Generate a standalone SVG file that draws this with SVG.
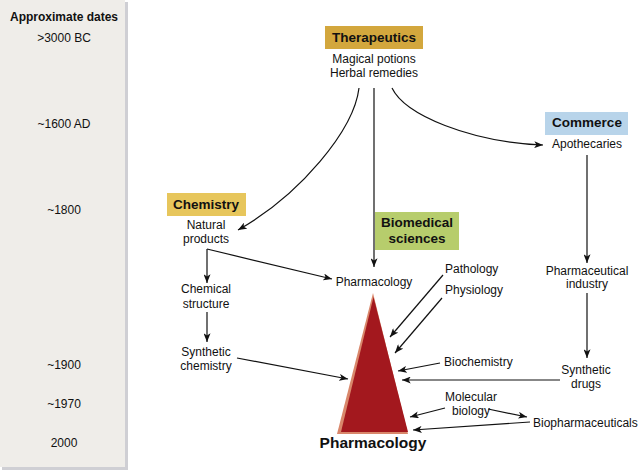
<svg xmlns="http://www.w3.org/2000/svg" width="640" height="471" viewBox="0 0 640 471">
<defs>
<style>
text{font-family:"Liberation Sans",Arial,sans-serif;fill:#111;}
.lbl{font-size:12px;text-anchor:middle;}
.lft{font-size:12px;text-anchor:start;}
.hd{font-size:13.5px;font-weight:bold;text-anchor:middle;}
.cn{fill:none;stroke:#111;stroke-width:1.2;marker-end:url(#ah);}
</style>
<marker id="ah" viewBox="0 0 10 8" refX="10" refY="4" markerWidth="9" markerHeight="7" markerUnits="userSpaceOnUse" orient="auto">
<path d="M0,0 L10,4 L0,8 L2.5,4 z" fill="#111"/>
</marker>
</defs>
<rect width="640" height="471" fill="#ffffff"/>
<g id="timeline">
<rect x="125" y="2" width="3" height="468" fill="#cfcfd4"/>
<rect x="2" y="467" width="126" height="3" fill="#cfcfd4"/>
<rect x="0" y="0" width="125" height="467" fill="#efede9"/>
<text x="64" y="21" style="font-size:12px;font-weight:bold;text-anchor:middle">Approximate dates</text>
<text class="lbl" x="64" y="42">&gt;3000 BC</text>
<text class="lbl" x="64" y="128">~1600 AD</text>
<text class="lbl" x="64" y="214">~1800</text>
<text class="lbl" x="64" y="369">~1900</text>
<text class="lbl" x="64" y="408">~1970</text>
<text class="lbl" x="64" y="447">2000</text>
</g>
<g id="connectors">
<path class="cn" d="M359,88 C354,130 300,195 238,230"/>
<path class="cn" d="M374,88 L374,267"/>
<path class="cn" d="M392,88 C405,115 470,142 543,145"/>
<path class="cn" d="M207,249 L207,283"/>
<path class="cn" d="M207,249 L332,279"/>
<path class="cn" d="M207,312 L207,342"/>
<path class="cn" d="M237,358 L348,379"/>
<path class="cn" d="M587,155 L587,263"/>
<path class="cn" d="M587,293 L587,358"/>
<path class="cn" d="M560,380 L402,380"/>
<path class="cn" d="M443,275 L390,337"/>
<path class="cn" d="M442,298 L395,353"/>
<path class="cn" d="M440,363 L398,371"/>
<path class="cn" d="M445,408 L410,417"/>
<path class="cn" d="M488,409 L527,417"/>
<path class="cn" d="M530,422 L413,430"/>
</g>
<g id="therapeutics">
<rect x="325" y="26" width="98" height="23" fill="#d3a73d"/>
<text class="hd" x="374" y="42">Therapeutics</text>
<text class="lbl" x="374" y="63">Magical potions</text>
<text class="lbl" x="374" y="77">Herbal remedies</text>
</g>
<g id="chemistry">
<rect x="167" y="193" width="79" height="23" fill="#e7c65c"/>
<text class="hd" x="206" y="209">Chemistry</text>
<text class="lbl" x="206" y="229">Natural</text>
<text class="lbl" x="206" y="243">products</text>
</g>
<g id="chemical-structure">
<text class="lbl" x="206" y="293">Chemical</text>
<text class="lbl" x="206" y="308">structure</text>
</g>
<g id="synthetic-chemistry">
<text class="lbl" x="206" y="356">Synthetic</text>
<text class="lbl" x="206" y="370">chemistry</text>
</g>
<g id="biomedical">
<rect x="375" y="212" width="84" height="38" fill="#b7cd6c"/>
<text class="hd" x="417" y="227">Biomedical</text>
<text class="hd" x="417" y="243">sciences</text>
</g>
<g id="pharmacology-small">
<text class="lbl" x="374" y="286">Pharmacology</text>
</g>
<g id="commerce">
<rect x="545" y="112" width="83" height="23" fill="#b8d4ea"/>
<text class="hd" x="587" y="127">Commerce</text>
<text class="lbl" x="587" y="148">Apothecaries</text>
</g>
<g id="pharmaceutical-industry">
<text class="lbl" x="587" y="275">Pharmaceutical</text>
<text class="lbl" x="587" y="288">industry</text>
</g>
<g id="synthetic-drugs">
<text class="lbl" x="586" y="374">Synthetic</text>
<text class="lbl" x="586" y="388">drugs</text>
</g>
<g id="pathology"><text class="lft" x="445" y="273">Pathology</text></g>
<g id="physiology"><text class="lft" x="445" y="294">Physiology</text></g>
<g id="biochemistry"><text class="lft" x="444" y="366">Biochemistry</text></g>
<g id="molecular-biology">
<text class="lbl" x="471" y="401">Molecular</text>
<text class="lbl" x="471" y="415">biology</text>
</g>
<g id="biopharmaceuticals"><text class="lft" x="533" y="427">Biopharmaceuticals</text></g>
<g id="pharmacology">
<polygon points="373,293 337,434 408,434" fill="#d9876b"/>
<polygon points="373.5,297 341,432 408,432" fill="#a3181e"/>
<text x="373" y="448" style="font-size:15.5px;font-weight:bold;text-anchor:middle">Pharmacology</text>
</g>
</svg>
